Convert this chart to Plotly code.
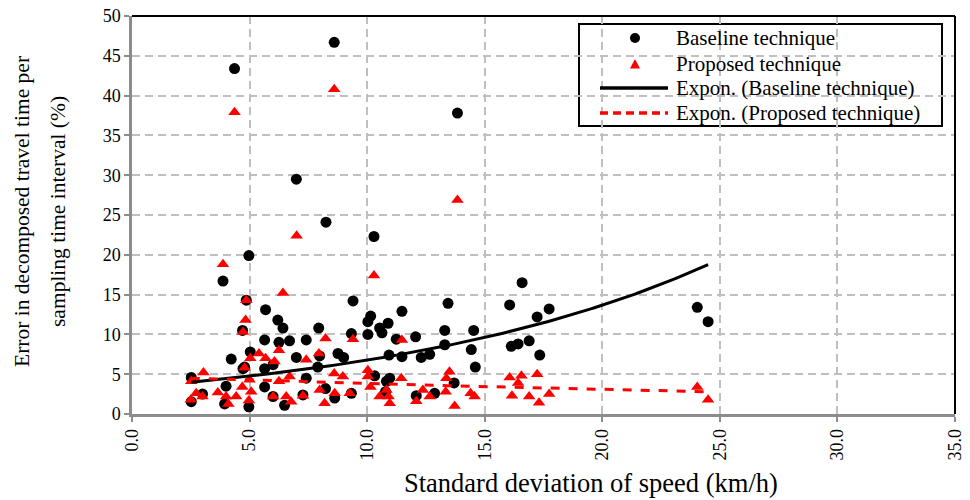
import numpy as np
import plotly.graph_objects as go

# Baseline technique: standard deviation of speed (km/h) vs. error (%)
baseline_sd = [4.36, 8.60, 13.84, 6.99, 8.25, 10.29, 4.97, 3.87, 16.59, 4.86,
               9.40, 13.44, 16.06, 24.04, 17.74, 5.68, 11.48, 10.15, 17.23, 6.20,
               10.03, 24.50, 10.89, 6.42, 7.94, 10.53, 4.70, 13.30, 14.53, 10.63,
               9.33, 10.03, 12.06, 11.24, 5.64, 7.41, 6.70, 16.89, 6.25, 16.42,
               13.30, 16.13, 14.43, 5.03, 8.76, 12.66, 10.93, 17.34, 7.98, 11.48,
               6.99, 9.00, 12.30, 4.22, 6.00, 4.79, 7.90, 14.60, 5.64, 4.72,
               10.32, 2.52, 10.96, 7.41, 13.70, 4.00, 5.64, 8.23, 10.78, 9.33,
               12.87, 3.00, 7.27, 12.09, 6.00, 8.62, 2.52, 3.94, 6.49, 4.97,
               10.82]
baseline_err = [43.4, 46.7, 37.8, 29.5, 24.1, 22.3, 19.9, 16.7, 16.5, 14.3,
                14.2, 13.9, 13.7, 13.4, 13.2, 13.1, 12.9, 12.3, 12.2, 11.8,
                11.6, 11.6, 11.4, 10.8, 10.8, 10.8, 10.5, 10.5, 10.5, 10.2,
                10.1, 10.0, 9.7, 9.4, 9.3, 9.3, 9.2, 9.2, 9.0, 8.8,
                8.7, 8.5, 8.1, 7.8, 7.6, 7.5, 7.4, 7.4, 7.3, 7.2,
                7.1, 7.1, 7.1, 6.9, 6.2, 5.9, 5.9, 5.9, 5.7, 5.7,
                4.8, 4.6, 4.5, 4.5, 3.9, 3.5, 3.4, 3.2, 2.8, 2.6,
                2.6, 2.5, 2.4, 2.3, 2.2, 2.0, 1.55, 1.26, 1.1, 0.9,
                4.1]

# Proposed technique: standard deviation of speed (km/h) vs. error (%)
proposed_sd = [4.36, 8.60, 7.00, 13.84, 3.87, 10.29, 6.42, 4.86, 4.83, 4.72,
               9.40, 8.23, 11.48, 6.25, 5.40, 7.95, 5.03, 5.68, 6.06, 7.41,
               4.79, 10.03, 13.50, 3.04, 8.60, 17.23, 10.03, 8.97, 6.70, 16.56,
               16.06, 11.45, 13.37, 5.00, 2.52, 6.25, 16.42, 4.69, 10.14, 24.04,
               7.98, 10.82, 12.37, 5.07, 13.34, 3.65, 8.62, 9.26, 2.73, 14.40,
               17.74, 7.27, 16.16, 3.00, 4.00, 4.43, 6.00, 6.56, 10.53, 10.91,
               12.66, 14.57, 16.89, 2.50, 24.50, 4.97, 12.09, 6.77, 17.31, 8.19,
               10.96, 4.10, 13.72]
proposed_err = [37.9, 40.8, 22.4, 26.9, 18.8, 17.4, 15.2, 14.3, 11.8, 10.3,
                9.4, 9.5, 9.3, 8.0, 7.6, 7.6, 7.0, 7.0, 6.6, 6.8,
                5.8, 5.5, 5.3, 5.2, 5.1, 5.0, 4.7, 4.7, 4.7, 4.8,
                4.6, 4.5, 4.5, 4.3, 4.1, 4.1, 3.9, 3.4, 3.4, 3.4,
                3.0, 3.0, 3.0, 2.8, 2.8, 2.7, 2.6, 2.6, 2.6, 2.6,
                2.5, 2.3, 2.3, 2.2, 2.2, 2.2, 2.2, 2.2, 2.2, 2.2,
                2.2, 2.2, 2.2, 1.8, 1.8, 1.7, 1.6, 1.55, 1.4, 1.35,
                1.35, 1.26, 1.0]

# Exponential trendline coefficients, y = a * exp(b * x)
baseline_trend = dict(a=3.35, b=0.0703)
proposed_trend = dict(a=4.75, b=-0.0216)

x_ticks = [0, 5, 10, 15, 20, 25, 30, 35]
y_ticks = [0, 5, 10, 15, 20, 25, 30, 35, 40, 45, 50]

series_names = ["Baseline technique", "Proposed technique",
                "Expon. (Baseline technique)", "Expon. (Proposed technique)"]
x_title = "Standard deviation of speed (km/h)"
y_title_lines = ["Error in decomposed travel time per",
                 "sampling time interval (%)"]

FONT = "Liberation Serif"
RED = "#FF0000"


def expon_curve(x, coef, n=120):
    xs = np.linspace(min(x), max(x), n)
    return xs, coef["a"] * np.exp(coef["b"] * xs)


bx, by = expon_curve(baseline_sd, baseline_trend)
px, py = expon_curve(proposed_sd, proposed_trend)

fig = go.Figure()
fig.add_trace(go.Scatter(
    x=baseline_sd, y=baseline_err, mode="markers", name=series_names[0],
    marker=dict(symbol="circle", size=11, color="black"),
))
fig.add_trace(go.Scatter(
    x=proposed_sd, y=proposed_err, mode="markers", name=series_names[1],
    marker=dict(symbol="triangle-up", size=11, color=RED),
))
fig.add_trace(go.Scatter(
    x=bx, y=by, mode="lines", name=series_names[2],
    line=dict(color="black", width=3),
))
fig.add_trace(go.Scatter(
    x=px, y=py, mode="lines", name=series_names[3],
    line=dict(color=RED, width=3, dash="dash"),
))

axis_common = dict(
    showgrid=True, gridcolor="#BFBFBF", gridwidth=1.5, griddash="8px,5px",
    showline=True, linecolor="#8C8C8C", linewidth=2.5,
    ticks="outside", ticklen=5, tickcolor="#8C8C8C", tickwidth=1.5,
    zeroline=False, automargin=False,
    tickfont=dict(family=FONT, size=18, color="black"),
)

fig.update_xaxes(range=[0, 35], tickvals=x_ticks, tickformat=".1f",
                 tickangle=-90, **axis_common)
fig.update_yaxes(range=[0, 50], tickvals=y_ticks, **axis_common)

# black frame on top and right of the plotting area
fig.add_shape(type="line", xref="paper", yref="paper", x0=0, x1=1, y0=1, y1=1,
              line=dict(color="black", width=2))
fig.add_shape(type="line", xref="paper", yref="paper", x0=1, x1=1, y0=0, y1=1,
              line=dict(color="black", width=2))

# ---- helpers: px offsets from the plot area's top-left corner -> paper ----
PLOT_W, PLOT_H = 823.0, 398.0


def px2paper_x(p):
    return p / PLOT_W


def px2paper_y(p):
    return 1 - p / PLOT_H


# axis titles
fig.add_annotation(
    text=x_title, xref="paper", yref="paper",
    x=px2paper_x(459), y=px2paper_y(467),
    xanchor="center", yanchor="middle", showarrow=False,
    font=dict(family=FONT, size=26.5, color="black"),
)
for line, cx in zip(y_title_lines, [-110, -74]):
    fig.add_annotation(
        text=line, xref="paper", yref="paper", textangle=-90,
        x=px2paper_x(cx), y=px2paper_y(196),
        xanchor="center", yanchor="middle", showarrow=False,
        font=dict(family=FONT, size=21.5, color="black"),
    )

# ---- legend box ----
box_l, box_r, box_t, box_b = 447, 810, 8, 110
fig.add_shape(type="rect", xref="paper", yref="paper", layer="between",
              x0=px2paper_x(box_l), x1=px2paper_x(box_r),
              y0=px2paper_y(box_b), y1=px2paper_y(box_t),
              fillcolor="white", line=dict(color="black", width=2))

row_y = [22, 48, 72, 97]
sym_x = 503
line_x0, line_x1 = 468, 536
text_x = 542

fig.add_shape(type="circle", xref="paper", yref="paper",
              xsizemode="pixel", ysizemode="pixel",
              xanchor=px2paper_x(sym_x), yanchor=px2paper_y(row_y[0]),
              x0=-5, x1=5, y0=-5, y1=5,
              fillcolor="black", line=dict(color="black", width=0))
fig.add_shape(type="path", xref="paper", yref="paper",
              xsizemode="pixel", ysizemode="pixel",
              xanchor=px2paper_x(sym_x), yanchor=px2paper_y(row_y[1]),
              path="M -5 -4.5 L 5 -4.5 L 0 5 Z",
              fillcolor=RED, line=dict(color=RED, width=0))
fig.add_shape(type="line", xref="paper", yref="paper",
              x0=px2paper_x(line_x0), x1=px2paper_x(line_x1),
              y0=px2paper_y(row_y[2]), y1=px2paper_y(row_y[2]),
              line=dict(color="black", width=3.5))
fig.add_shape(type="line", xref="paper", yref="paper",
              x0=px2paper_x(line_x0), x1=px2paper_x(line_x1),
              y0=px2paper_y(row_y[3]), y1=px2paper_y(row_y[3]),
              line=dict(color=RED, width=3.5, dash="8px,5px"))

for name, ry in zip(series_names, row_y):
    fig.add_annotation(
        text=name, xref="paper", yref="paper",
        x=px2paper_x(text_x), y=px2paper_y(ry),
        xanchor="left", yanchor="middle", showarrow=False,
        font=dict(family=FONT, size=21, color="black"),
    )

fig.update_layout(
    width=970, height=500,
    margin=dict(l=132, r=15, t=16, b=86, autoexpand=False),
    plot_bgcolor="white", paper_bgcolor="white",
    font=dict(family=FONT, color="black"),
    showlegend=False,
)

fig.write_html("out.html")
